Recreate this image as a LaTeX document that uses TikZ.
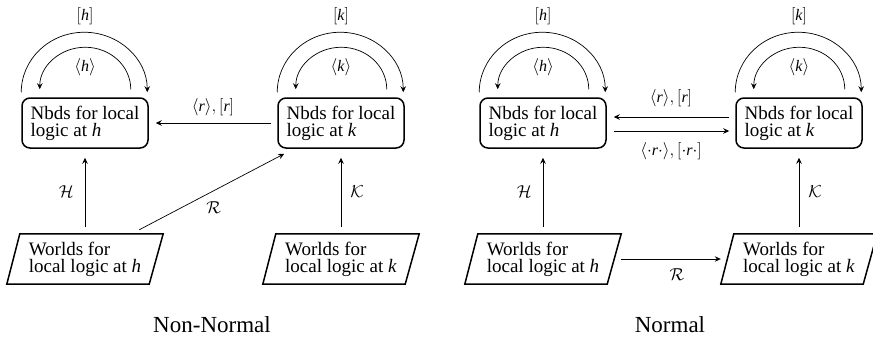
\documentclass[tikz,border=0pt]{standalone}
\usepackage{fontspec}
\setmainfont{Liberation Serif}
\usetikzlibrary{arrows.meta,calc}
\begin{document}
\begin{tikzpicture}[x=1pt,y=1pt,
  boxtext/.style={font=\fontsize{19}{17}\selectfont},
  nbd/.style={boxtext, draw, line width=1.5pt, rounded corners=8pt,
    minimum width=126pt, minimum height=50pt, align=left, inner sep=0pt},
  world/.style={boxtext, minimum width=156pt, minimum height=50pt,
    align=left, inner sep=0pt},
  pgram/.style={line width=1.5pt, line join=miter},
  edge/.style={-{Stealth[length=6pt,width=5.5pt,inset=2pt]}, line width=0.7pt},
  lbl/.style={font=\fontsize{16}{16}\selectfont, inner sep=0pt},
  cal/.style={font=\fontsize{19}{19}\selectfont, inner sep=0pt},
  caption/.style={font=\fontsize{23}{23}\selectfont, inner sep=0pt}
]
\useasboundingbox (0,0) rectangle (873,-338);

% ---------- Non-normal frame ----------
\node[nbd] (NHa) at (85,-123) {Nbds for local\\logic at \textit{h}};
\node[nbd] (NKa) at (341,-123) {Nbds for local\\logic at \textit{k}};
\node[world] (WHa) at (85,-259) {Worlds for\\local logic at \textit{h}};
\node[world] (WKa) at (341,-259) {Worlds for\\local logic at \textit{k}};
\foreach \w in {WHa,WKa}
  \draw[pgram] (\w.south west) -- ([xshift=-14pt]\w.south east)
    -- (\w.north east) -- ([xshift=13pt]\w.north west) -- cycle;

% self loops on the neighbourhood boxes
\foreach \n/\v in {NHa/h,NKa/k}{
  \draw[edge] ([yshift=5pt]\n.north west)
    arc[start angle=180, end angle=0, x radius=63pt, y radius=60pt];
  \draw[edge] ([xshift=-18pt,yshift=8pt]\n.north east)
    arc[start angle=0, end angle=180, x radius=45.5pt, y radius=42pt];
  \node[lbl] at ($(\n.north)+(0,81)$) {$[\textit{\v}]$};
  \node[lbl] at ($(\n.north)+(0,30)$) {$\langle\textit{\v}\rangle$};
}

\draw[edge, shorten <=6pt, shorten >=7pt] (NKa.west) -- (NHa.east)
  node[lbl, midway, above=7pt] (ra) {$\langle\textit{r}\rangle,[\textit{r}]$};
\draw[edge, shorten <=7pt, shorten >=9pt] (WHa.north) -- (NHa.south)
  node[cal, midway, left=11pt] (Ha) {$\mathcal{H}$};
\draw[edge, shorten <=7pt, shorten >=9pt] (WKa.north) -- (NKa.south)
  node[cal, midway, right=9pt] (Ka) {$\mathcal{K}$};
\draw[edge] ($(WHa.north east)+(-24,4)$) -- ($(NKa.south west)+(7,-5)$)
  node[cal, midway, below=10pt, xshift=2pt] (Ra) {$\mathcal{R}$};

\node[caption] (capA) at (212,-325) {Non-Normal};

% ---------- Normal frame ----------
\begin{scope}[xshift=458pt]
\node[nbd] (NHb) at (85,-123) {Nbds for local\\logic at \textit{h}};
\node[nbd] (NKb) at (341,-123) {Nbds for local\\logic at \textit{k}};
\node[world] (WHb) at (85,-259) {Worlds for\\local logic at \textit{h}};
\node[world] (WKb) at (341,-259) {Worlds for\\local logic at \textit{k}};
\foreach \w in {WHb,WKb}
  \draw[pgram] (\w.south west) -- ([xshift=-14pt]\w.south east)
    -- (\w.north east) -- ([xshift=13pt]\w.north west) -- cycle;

\foreach \n/\v in {NHb/h,NKb/k}{
  \draw[edge] ([yshift=5pt]\n.north west)
    arc[start angle=180, end angle=0, x radius=63pt, y radius=60pt];
  \draw[edge] ([xshift=-18pt,yshift=8pt]\n.north east)
    arc[start angle=0, end angle=180, x radius=45.5pt, y radius=42pt];
  \node[lbl] at ($(\n.north)+(0,81)$) {$[\textit{\v}]$};
  \node[lbl] at ($(\n.north)+(0,30)$) {$\langle\textit{\v}\rangle$};
}

\draw[edge, shorten <=6pt, shorten >=7pt] ([yshift=6pt]NKb.west) -- ([yshift=6pt]NHb.east)
  node[lbl, midway, above=10pt] (rb) {$\langle\textit{r}\rangle,[\textit{r}]$};
\draw[edge, shorten <=7pt, shorten >=6pt] ([yshift=-8pt]NHb.east) -- ([yshift=-8pt]NKb.west)
  node[lbl, midway, below=11pt] (rrb) {$\langle\cdot\textit{r}\cdot\rangle,[\cdot\textit{r}\cdot]$};
\draw[edge, shorten <=7pt, shorten >=9pt] (WHb.north) -- (NHb.south)
  node[cal, midway, left=11pt] (Hb) {$\mathcal{H}$};
\draw[edge, shorten <=7pt, shorten >=9pt] (WKb.north) -- (NKb.south)
  node[cal, midway, right=9pt] (Kb) {$\mathcal{K}$};
\draw[edge] (WHb.east) -- (WKb.west)
  node[cal, midway, below=9pt, xshift=6pt] (Rb) {$\mathcal{R}$};

\node[caption] (capB) at (212,-325) {Normal};
\end{scope}
\end{tikzpicture}
\end{document}
